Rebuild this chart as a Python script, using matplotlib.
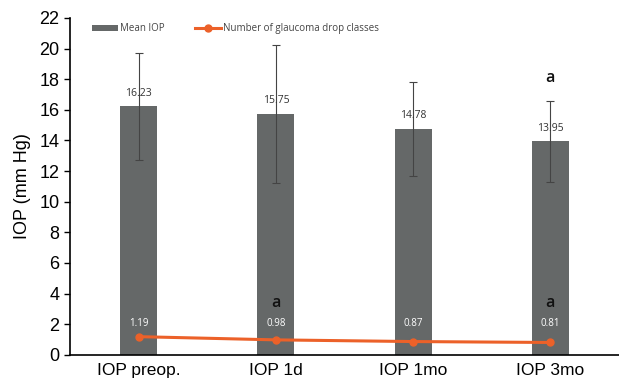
import numpy as np
import matplotlib
matplotlib.use("Agg")
import matplotlib.pyplot as plt

# данные
categories = ["IOP preop.", "IOP 1d", "IOP 1mo", "IOP 3mo"]
mean_iop = [16.23, 15.75, 14.78, 13.95]
iop_sd = [3.5, 4.5, 3.07, 2.65]
drop_classes = [1.19, 0.98, 0.87, 0.81]
bar_marks = ["", "", "", "a"]
line_marks = ["", "a", "", "a"]

plt.rcParams["font.family"] = ["Liberation Sans", "DejaVu Sans"]

fig = plt.figure(figsize=(6.19, 3.82), dpi=100)
ax = fig.add_axes([0.113, 0.071, 0.887, 0.882])

x = np.arange(len(categories))
bar_color = "#656868"
line_color = "#EC6129"

bars = ax.bar(x, mean_iop, width=0.27, color=bar_color, label="Mean IOP", zorder=2)
ax.errorbar(x, mean_iop, yerr=iop_sd, fmt="none", ecolor="#444444",
            elinewidth=0.8, capsize=3, capthick=0.8, zorder=3)
line, = ax.plot(x, drop_classes, color=line_color, lw=2.2, marker="o", ms=5,
                label="Number of glaucoma drop classes", zorder=4)

# подписи значений
for i, v in enumerate(mean_iop):
    ax.text(x[i], v + 0.85, f"{v:.2f}", ha="center", va="center",
            fontsize=7.5, color="#333333", family="Open Sans", zorder=5)
    if bar_marks[i]:
        ax.text(x[i], 18.1, bar_marks[i], ha="center", va="center",
                fontsize=11.5, family="Open Sans", weight="semibold",
                color="#111111", zorder=5)
for i, v in enumerate(drop_classes):
    ax.text(x[i], 2.05, f"{v:.2f}", ha="center", va="center",
            fontsize=7, color="white", family="Open Sans", zorder=5)
    if line_marks[i]:
        ax.text(x[i], 3.4, line_marks[i], ha="center", va="center",
                fontsize=11.5, family="Open Sans", weight="semibold",
                color="#111111", zorder=5)

ax.set_xlim(-0.5, 3.5)
ax.set_ylim(0, 22)
ax.set_yticks(np.arange(0, 23, 2))
ax.set_xticks(x)
ax.set_xticklabels(categories, fontsize=12.5)
ax.tick_params(axis="y", labelsize=13, direction="out", length=4, width=1)
ax.tick_params(axis="x", length=0, pad=6)
ax.set_ylabel("IOP (mm Hg)", fontsize=13, labelpad=6)

for s in ["top", "right"]:
    ax.spines[s].set_visible(False)
ax.spines["left"].set_linewidth(1.2)
ax.spines["bottom"].set_linewidth(1.2)

leg = ax.legend([bars, line], ["Mean IOP", "Number of glaucoma drop classes"],
                loc="upper left", bbox_to_anchor=(0.025, 1.01), ncol=2,
                frameon=False, fontsize=7, handlelength=2.6,
                handleheight=0.6, columnspacing=3.2, handletextpad=0.2)
for t in leg.get_texts():
    t.set_color("#444444")
    t.set_family("Open Sans")

fig.savefig("out.png", dpi=100)
